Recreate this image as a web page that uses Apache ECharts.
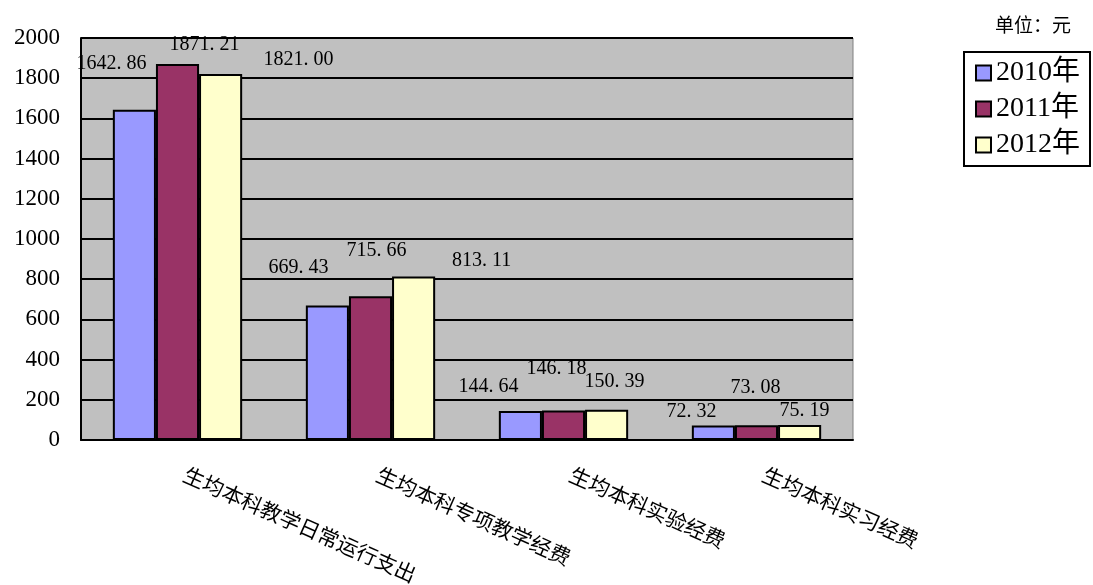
<!DOCTYPE html>
<html><head><meta charset="utf-8">
<script src="https://cdn.jsdelivr.net/npm/echarts@6/dist/echarts.min.js"></script>
<style>html,body{margin:0;padding:0;background:#fff}#c{width:1093px;height:585px}</style>
</head><body><div id="c"></div>
<script>
var categories = ['生均本科教学日常运行支出', '生均本科专项教学经费', '生均本科实验经费', '生均本科实习经费'];
var seriesNames = ['2010年', '2011年', '2012年'];
var values2010 = [1642.86, 669.43, 144.64, 72.32];
var values2011 = [1871.21, 715.66, 146.18, 73.08];
var values2012 = [1821.00, 813.11, 150.39, 75.19];
var colors = ['#9999ff', '#993366', '#ffffcc'];
// label offsets [dx, dy] per series per category (layout only)
var labelOffsets = [
  [[-23, -30], [-29, -22], [-32, -8], [-22, 2]],
  [[27, -3], [6, -29], [-7, -26], [-1, -22]],
  [[78, 2], [68, 0], [8, -12], [5, 2]]
];
var numFont = '"Liberation Serif", "Noto Sans CJK SC", serif';
var cjkFont = '"Noto Sans CJK SC", sans-serif';
var allValues = [values2010, values2011, values2012];
var chart = echarts.init(document.getElementById('c'));
chart.setOption({
  animation: false,
  title: {text: '单位：元', right: 17, top: 10, textStyle: {fontFamily: cjkFont, fontSize: 19, fontWeight: 'normal', color: '#000'}},
  legend: {
    orient: 'vertical', right: 3, top: 52,
    icon: 'rect',
    itemWidth: 15, itemHeight: 15, itemGap: 8,
    padding: [7, 10, 7, 11],
    borderColor: '#000', borderWidth: 2,
    textStyle: {fontFamily: numFont, fontSize: 28, color: '#000'},
    data: seriesNames.map(function(n, i){ return {name: n, itemStyle: {color: colors[i], borderColor: '#000', borderWidth: 2}}; })
  },
  grid: {left: 81, right: 240, top: 38, bottom: 145, containLabel: false, outerBoundsMode: 'none',
    show: true, backgroundColor: '#c0c0c0', borderColor: '#808080', borderWidth: 1},
  xAxis: {
    type: 'category', data: categories,
    axisLine: {lineStyle: {color: '#000', width: 2}},
    axisTick: {inside: true, length: 7, lineStyle: {color: '#000', width: 2}},
    axisLabel: {rotate: -24, margin: 30, fontFamily: cjkFont, fontSize: 21, color: '#000', interval: 0, padding: [0, 0, 0, 8]}
  },
  yAxis: {
    type: 'value', min: 0, max: 2000, interval: 200,
    axisLine: {show: true, lineStyle: {color: '#000', width: 2}},
    axisTick: {show: true, inside: true, length: 6, lineStyle: {color: '#000', width: 2}},
    splitLine: {lineStyle: {color: '#000', width: 2}},
    axisLabel: {margin: 21, fontFamily: numFont, fontSize: 23, color: '#000', formatter: function(v){ return String(v); }}
  },
  series: allValues.map(function(vals, s){
    return {
      name: seriesNames[s], type: 'bar', barGap: '0%', barCategoryGap: '33%',
      itemStyle: {color: colors[s], borderColor: '#000', borderWidth: 2},
      data: vals.map(function(v, i){
        return {value: v, label: {offset: labelOffsets[s][i]}};
      }),
      label: {show: true, position: 'top', distance: 6, fontFamily: numFont, fontSize: 20, color: '#000',
        formatter: function(p){ return p.value.toFixed(2).replace('.', '. '); }}
    };
  })
});
</script></body></html>
